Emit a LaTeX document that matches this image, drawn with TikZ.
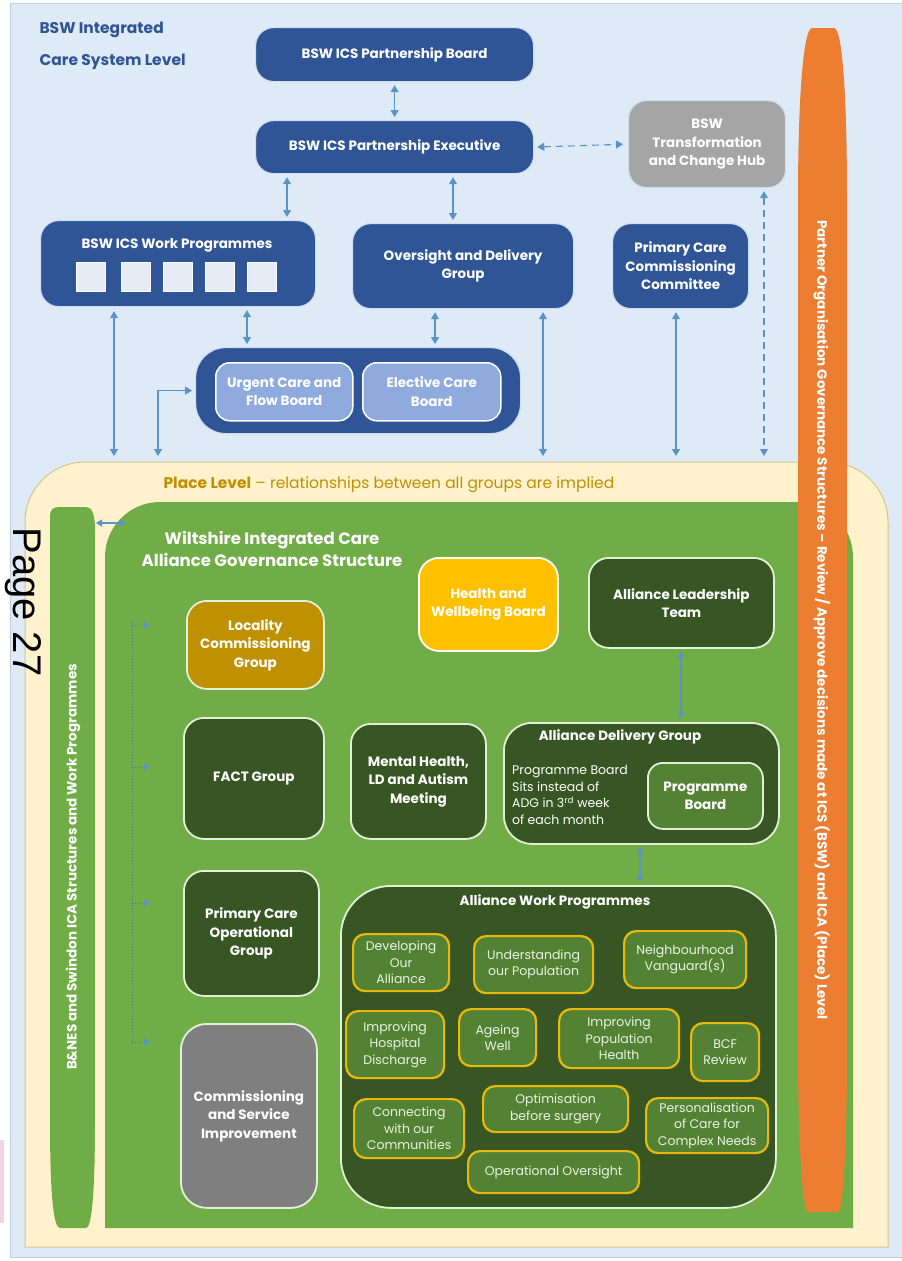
\documentclass[tikz,border=0pt]{standalone}
\usepackage{fontspec}
\setmainfont{Poppins}
\newfontfamily\pagefont{Liberation Sans}
\usetikzlibrary{arrows.meta}
\definecolor{bgblue}{HTML}{DEEAF6}
\definecolor{bgline}{HTML}{C3CEDB}
\definecolor{dblue}{HTML}{2F5597}
\definecolor{bboxline}{HTML}{D0DDF0}
\definecolor{lblue}{HTML}{8FAADC}
\definecolor{sqfill}{HTML}{E6ECF5}
\definecolor{arrc}{HTML}{5B93C8}
\definecolor{hubgray}{HTML}{A5A5A5}
\definecolor{orng}{HTML}{ED7D31}
\definecolor{cream}{HTML}{FFF2CC}
\definecolor{creamline}{HTML}{D6C48E}
\definecolor{lgreen}{HTML}{70AD47}
\definecolor{dgreen}{HTML}{375623}
\definecolor{mgreen}{HTML}{548235}
\definecolor{gold}{HTML}{E8B90A}
\definecolor{locgold}{HTML}{BF9000}
\definecolor{hwy}{HTML}{FFC000}
\definecolor{csgray}{HTML}{7F7F7F}
\definecolor{placetxt}{HTML}{BF9000}
\definecolor{titleblue}{HTML}{2F5597}
\definecolor{gborder}{HTML}{E2F0D9}
\definecolor{itemtxt}{HTML}{EAF3E2}
\definecolor{dotc}{HTML}{4F7488}
\definecolor{pinkart}{HTML}{F3D3E8}
\newcommand\boxat[7]{\node[#6, minimum width=#4pt, minimum height=#5pt, anchor=north west] (#1) at (#2,#3) {#7};}
\newcommand\fHead{\bfseries\fontsize{13.5}{18.5}\selectfont}
\newcommand\fItem{\fontsize{12.5}{16.5}\selectfont}
\tikzset{
  bluebox/.style={draw=bboxline, line width=1.2pt, fill=dblue, rounded corners=18pt,
    text=white, font=\fHead, align=center, inner sep=0pt},
  lbluebox/.style={draw=white, line width=1.5pt, fill=lblue, rounded corners=14pt,
    text=white, font=\fHead, align=center, inner sep=0pt},
  hubbox/.style={draw=bboxline, line width=1.2pt, fill=hubgray, rounded corners=18pt,
    text=white, font=\fHead, align=center, inner sep=0pt},
  sqbox/.style={draw=white, line width=0.6pt, fill=sqfill, inner sep=0pt},
  gbox/.style={draw=gborder, line width=1.8pt, fill=dgreen, rounded corners=20pt,
    text=white, font=\fHead, align=center, inner sep=0pt},
  itembox/.style={draw=gold, line width=2.2pt, fill=mgreen, rounded corners=12pt,
    text=itemtxt, font=\fItem, align=center, inner sep=0pt},
  biarr/.style={draw=arrc, line width=1.1pt,
    {Triangle[width=8pt,length=7pt]}-{Triangle[width=8pt,length=7pt]}},
  dbiarr/.style={biarr, dash pattern=on 7pt off 5pt},
  linkarr/.style={draw=arrc, line width=2.4pt,
    {Triangle[width=8pt,length=5pt]}-{Triangle[width=8pt,length=5pt]}},
  dotline/.style={draw=dotc, line width=1pt, dotted},
  dotarr/.style={draw=dotc, line width=1pt, dotted, -{Triangle[width=7pt,length=6pt,color=arrc,fill=arrc]}},
}
\begin{document}
\begin{tikzpicture}[x=1pt,y=-1pt]
\useasboundingbox (0,0) rectangle (902,1261);
% background
\fill[white] (0,0) rectangle (902,1261);
\fill[pinkart] (0,1140) rectangle (4,1223);
\draw[fill=bgblue, draw=bgline, line width=0.8pt] (10,3) rectangle (906,1257);
% title
\node[anchor=west, text=titleblue, font=\bfseries\fontsize{15.5}{18}\selectfont] (t1) at (36,30) {BSW Integrated};
\node[anchor=west, text=titleblue, font=\bfseries\fontsize{15.5}{18}\selectfont] (t2) at (36,62) {Care System Level};
% top blue boxes
\boxat{pb}{255}{27}{278}{54}{bluebox}{BSW ICS Partnership Board}
\boxat{pe}{255}{120}{278}{53}{bluebox}{BSW ICS Partnership Executive}
\boxat{hub}{628}{100}{157}{87}{hubbox}{BSW\\Transformation\\and Change Hub}
\boxat{wp}{40}{220}{275}{86}{bluebox}{}
\node[text=white, font=\fHead] (wpt) at (177,245) {BSW ICS Work Programmes};
\boxat{s1}{76}{262}{29}{29}{sqbox}{}
\boxat{s2}{121}{262}{29}{29}{sqbox}{}
\boxat{s3}{163}{262}{29}{29}{sqbox}{}
\boxat{s4}{205}{262}{29}{29}{sqbox}{}
\boxat{s5}{247}{262}{29}{29}{sqbox}{}
\boxat{odg}{352}{223}{221}{85}{bluebox}{Oversight and Delivery\\Group}
\boxat{pccc}{612}{223}{136}{85}{bluebox}{Primary Care\\Commissioning\\Committee}
\boxat{uec}{195}{347}{325}{86}{bluebox, rounded corners=30pt}{}
\boxat{ucfb}{215}{362}{137}{58}{lbluebox}{Urgent Care and\\Flow Board}
\boxat{ecb}{362}{362}{138}{58}{lbluebox}{Elective Care\\Board}
% helper x coordinates
\coordinate (x114) at (114,0);
\coordinate (x247) at (247,0);
\coordinate (x287) at (287,0);
\coordinate (x435) at (435,0);
\coordinate (x453) at (453,0);
\coordinate (x543) at (543,0);
\coordinate (x676) at (676,0);
\coordinate (x764) at (764,0);
\coordinate (e114) at (114,456);
\coordinate (e158) at (158,456);
\coordinate (e543) at (543,456);
\coordinate (e676) at (676,456);
\coordinate (e764) at (764,456);
% top connectors
\draw[biarr, shorten <=3pt, shorten >=3pt] (pb.south) -- (pe.north);
\draw[biarr, shorten <=3pt, shorten >=3pt] (pe.south -| x287) -- (wp.north -| x287);
\draw[biarr, shorten <=3pt, shorten >=3pt] (pe.south -| x453) -- (odg.north -| x453);
\draw[dbiarr, shorten <=3pt, shorten >=5pt] (pe.east) -- (hub.west);
\draw[biarr, shorten <=3pt, shorten >=3pt] (wp.south -| x247) -- (uec.north -| x247);
\draw[biarr, shorten <=3pt, shorten >=3pt] (odg.south -| x435) -- (uec.north -| x435);
\draw[biarr, shorten <=4pt] (wp.south -| x114) -- (e114);
\draw[biarr, shorten >=3pt] (e158) |- (uec.west);
\draw[biarr, shorten <=3pt] (odg.south -| x543) -- (e543);
\draw[biarr, shorten <=3pt] (pccc.south -| x676) -- (e676);
\draw[dbiarr, shorten <=3pt] (hub.south -| x764) -- (e764);
% place level
\draw[fill=cream, draw=creamline, line width=1pt]
  (25,800) [rounded corners=60pt] -- (25,462) -- (888,462) -- (888,800) [sharp corners] -- (888,1247) -- (25,1247) -- cycle;
\node[anchor=west, text=placetxt, font=\fontsize{15.5}{18}\selectfont] (plt) at (160,485)
  {\textbf{Place Level} – relationships between all groups are implied};
% green main
\fill[lgreen] (105,800) [rounded corners=55pt] -- (105,502) -- (853,502) -- (853,800) [sharp corners] -- (853,1228) -- (105,1228) -- cycle;
% left pill
\fill[lgreen] (50,1120) -- (50,517) .. controls (50,509) and (53,507) .. (60,507) -- (86,507) .. controls (92,507) and (95,514) .. (95,530)
  -- (95,1120) .. controls (95,1190) and (92,1228) .. (86,1228) -- (60,1228) .. controls (53,1228) and (50,1190) .. (50,1120) -- cycle;
\node[rotate=90, text=white, font=\bfseries\fontsize{13.5}{16}\selectfont] (pilltxt) at (73,867)
  {B\&NES and Swindon ICA Structures and Work Programmes};
\coordinate (pillR) at (96,523);
\coordinate (greenL) at (126,523);
\draw[draw=arrc, line width=1.1pt, {Triangle[width=7pt,length=6pt]}-{Triangle[width=7pt,length=6pt]}] (pillR) -- (greenL);
\node[text=white, font=\bfseries\fontsize{16.5}{22}\selectfont, align=center] (wtitle) at (272,549)
  {Wiltshire Integrated Care\\Alliance Governance Structure};
% left column
\boxat{lcg}{186}{600}{137}{88}{gbox, fill=locgold}{Locality\\Commissioning\\Group}
\boxat{fact}{183}{717}{140}{121}{gbox}{FACT Group}
\boxat{pcog}{183}{870}{135}{125}{gbox}{Primary Care\\Operational\\Group}
\boxat{csi}{180}{1023}{136}{184}{gbox, fill=csgray, rounded corners=26pt}{Commissioning\\and Service\\Improvement}
\draw[dotline] (132,620) -- (132,1043);
\coordinate (d1) at (132,625);
\coordinate (d2) at (132,767);
\coordinate (d3) at (132,903);
\coordinate (d4) at (132,1042);
\draw[dotarr, shorten >=36pt] (d1) -- (d1 -| lcg.west);
\draw[dotarr, shorten >=33pt] (d2) -- (d2 -| fact.west);
\draw[dotarr, shorten >=33pt] (d3) -- (d3 -| pcog.west);
\draw[dotarr, shorten >=30pt] (d4) -- (d4 -| csi.west);
% middle
\boxat{hwb}{418}{557}{139}{93}{gbox, fill=hwy, draw=white}{Health and\\Wellbeing Board}
\boxat{alt}{588}{557}{185}{90}{gbox}{Alliance Leadership\\Team}
\boxat{mh}{350}{723}{135}{115}{gbox}{Mental Health,\\LD and Autism\\Meeting}
\boxat{adg}{503}{722}{275}{121}{gbox, rounded corners=28pt}{}
\node[text=white, font=\fHead] (adgt) at (620,737) {Alliance Delivery Group};
\node[anchor=north west, text=white, font=\fontsize{12.5}{16.7}\selectfont, align=left, inner sep=0pt] (adgs) at (512,765)
  {Programme Board\\Sits instead of\\ADG in 3\textsuperscript{rd} week\\of each month};
\boxat{pbd}{647}{762}{115}{66}{gbox, fill=mgreen, rounded corners=15pt}{Programme\\Board}
\coordinate (x681) at (681,0);
\coordinate (x640) at (640,0);
\draw[linkarr, shorten <=3pt, shorten >=4pt] (alt.south -| x681) -- (adg.north -| x681);
% alliance work programmes
\boxat{awp}{340}{885}{435}{322}{gbox, rounded corners=50pt}{}
\draw[linkarr, shorten <=3pt, shorten >=4pt] (adg.south -| x640) -- (awp.north -| x640);
\node[text=white, font=\fHead] (awpt) at (555,902) {Alliance Work Programmes};
\boxat{dev}{352}{933}{96}{57}{itembox}{Developing\\Our\\Alliance}
\boxat{und}{473}{935}{119}{57}{itembox}{Understanding\\our Population}
\boxat{nv}{623}{930}{122}{57}{itembox}{Neighbourhood\\Vanguard(s)}
\boxat{ihd}{345}{1010}{98}{67}{itembox}{Improving\\Hospital\\Discharge}
\boxat{agw}{458}{1008}{77}{57}{itembox}{Ageing\\Well}
\boxat{iph}{558}{1008}{120}{59}{itembox}{Improving\\Population\\Health}
\boxat{bcf}{690}{1022}{68}{58}{itembox}{BCF\\Review}
\boxat{cwc}{353}{1098}{110}{59}{itembox}{Connecting\\with our\\Communities}
\boxat{obs}{482}{1085}{145}{46}{itembox}{Optimisation\\before surgery}
\boxat{pcc}{645}{1097}{122}{55}{itembox}{Personalisation\\of Care for\\Complex Needs}
\boxat{opo}{467}{1150}{171}{42}{itembox}{Operational Oversight}
% orange bar
\fill[orng] (798,1050) -- (798,200) .. controls (798,90) and (804,28) .. (812,28) -- (834,28) .. controls (842,28) and (847,90) .. (847,200)
  -- (847,1050) .. controls (847,1150) and (843,1212) .. (838,1212) -- (808,1212) .. controls (803,1212) and (798,1150) .. (798,1050) -- cycle;
\node[rotate=-90, text=white, font=\bfseries\fontsize{13.5}{16}\selectfont] (orgtxt) at (822,620)
  {Partner Organisation Governance Structures – Review / Approve decisions made at ICS (BSW) and ICA (Place) Level};
% page number
\node[rotate=-90, anchor=base, font=\pagefont\fontsize{40}{40}\selectfont, text=black] (pg) at (13,602) {Page 27};
\end{tikzpicture}
\end{document}
